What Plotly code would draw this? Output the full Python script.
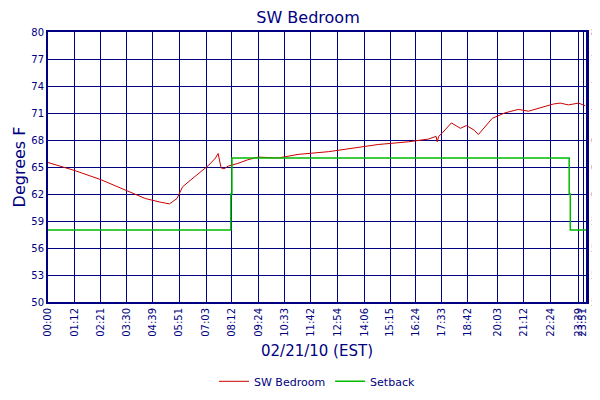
import plotly.graph_objects as go

navy = "#000080"

# minutes since midnight
temp_min = [0, 72, 141, 210, 260, 300, 325, 345, 360, 380, 400, 430, 448, 455, 463, 471, 482, 508,
            534, 562, 616, 669, 750, 803, 883, 964, 1017, 1038, 1041, 1045, 1055, 1079, 1103, 1119,
            1140, 1151, 1164, 1188, 1221, 1258, 1285, 1312, 1352, 1370, 1392, 1419, 1437]
temp_val = [65.5, 64.6, 63.6, 62.4, 61.5, 61.1, 60.9, 61.5, 62.8, 63.5, 64.2, 65.2, 66.0, 66.5, 64.9,
            64.8, 65.1, 65.4, 65.8, 66.1, 66.0, 66.4, 66.7, 67.0, 67.5, 67.8, 68.1, 68.4, 67.8, 68.4,
            68.8, 69.9, 69.3, 69.6, 69.1, 68.6, 69.2, 70.4, 71.0, 71.4, 71.2, 71.5, 72.0, 72.1, 71.9,
            72.1, 71.8]

setback_min = [0, 489, 489, 492, 492, 1394, 1394, 1397, 1397, 1439]
setback_val = [58, 58, 62, 62, 66, 66, 62, 62, 58, 58]

tick_min = [0, 72, 141, 210, 279, 351, 423, 492, 564, 633, 702, 774, 846, 915, 984, 1053, 1122,
            1203, 1272, 1344, 1419, 1431]
tick_txt = ["00:00", "01:12", "02:21", "03:30", "04:39", "05:51", "07:03", "08:12", "09:24", "10:33",
            "11:42", "12:54", "14:06", "15:15", "16:24", "17:33", "18:42", "20:03", "21:12", "22:24",
            "23:39", "23:51"]
y_ticks = [50, 53, 56, 59, 62, 65, 68, 71, 74, 77, 80]

fig = go.Figure()
fig.add_trace(go.Scatter(x=temp_min, y=temp_val, mode="lines", name="SW Bedroom",
                         line=dict(color="#cc0000", width=1)))
fig.add_trace(go.Scatter(x=setback_min, y=setback_val, mode="lines", name="Setback",
                         line=dict(color="#00bb00", width=1.5)))
# invisible trace for right axis
fig.add_trace(go.Scatter(x=[0], y=[50], yaxis="y2", showlegend=False, hoverinfo="skip",
                         mode="markers", marker=dict(opacity=0)))

fig.update_layout(
    width=600, height=400, paper_bgcolor="white", plot_bgcolor="white",
    font=dict(family="DejaVu Sans", color=navy, size=10),
    margin=dict(l=40, r=22, t=24, b=82),
    title=dict(text="SW Bedroom", x=0.5, y=0.99, yanchor="top", font=dict(size=16, color=navy)),
    xaxis=dict(range=[0, 1439], tickvals=tick_min, ticktext=tick_txt, tickangle=-90,
               showgrid=True, gridcolor=navy, gridwidth=1, showline=True, linecolor=navy,
               linewidth=2, mirror=True, zeroline=False, ticks="", automargin=False,
               title=dict(text="02/21/10 (EST)", font=dict(size=15, color=navy), standoff=10)),
    yaxis=dict(range=[50, 80], tickvals=y_ticks, showgrid=True, gridcolor=navy, gridwidth=1,
               showline=True, linecolor=navy, linewidth=2, zeroline=False, ticks="",
               automargin=False,
               title=dict(text="Degrees F", font=dict(size=16, color=navy), standoff=2)),
    yaxis2=dict(range=[50, 80], tickvals=y_ticks, overlaying="y", side="right", showgrid=False,
                showline=True, linecolor=navy, linewidth=3, zeroline=False, ticks="",
                automargin=False),
    legend=dict(orientation="h", x=0.5, xanchor="center", y=-0.24, yanchor="top",
                font=dict(size=11, color=navy)),
)

fig.write_html("out.html")
